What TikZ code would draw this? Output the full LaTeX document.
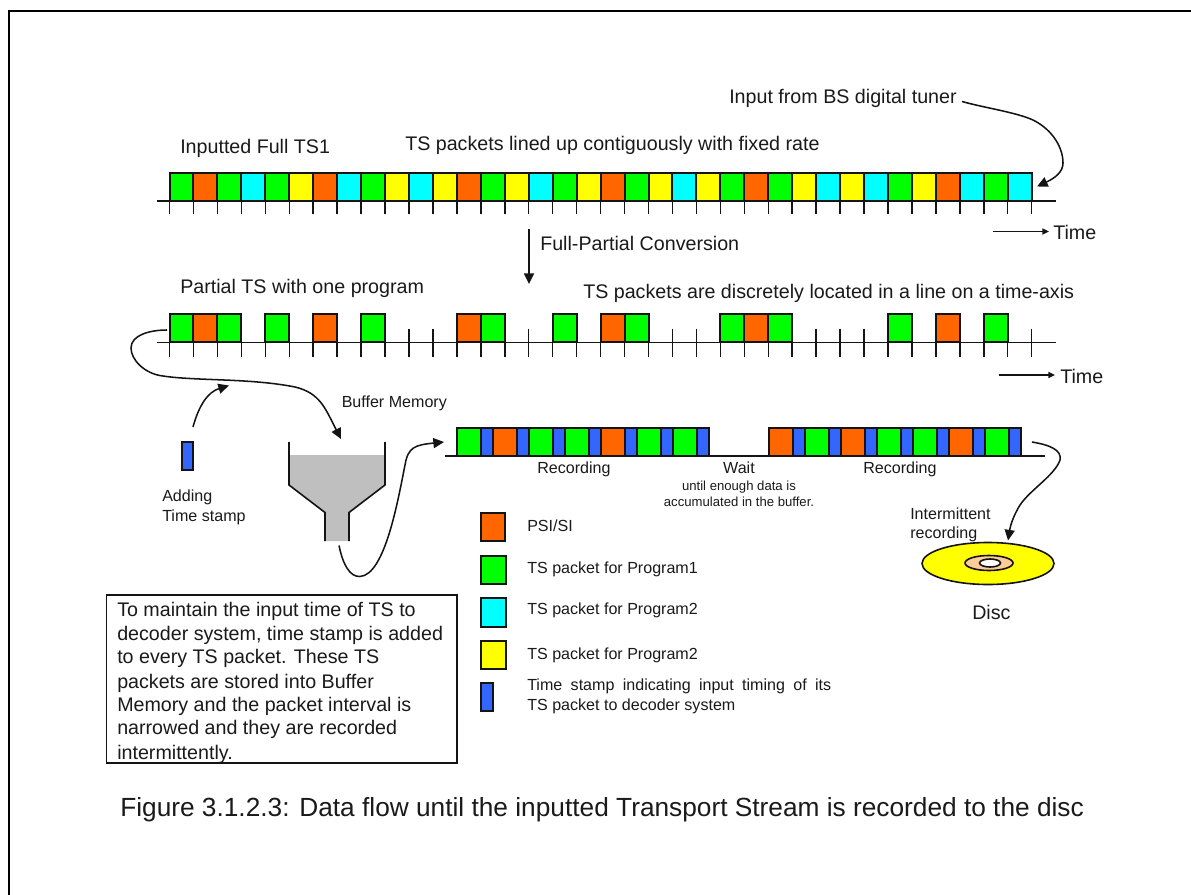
\documentclass[tikz,border=0pt]{standalone}
\usepackage{fontspec}
\setmainfont{Liberation Sans}
\usetikzlibrary{arrows.meta}
\definecolor{pg}{HTML}{00FF00}
\definecolor{po}{HTML}{FF6600}
\definecolor{pc}{HTML}{00FFFF}
\definecolor{py}{HTML}{FFFF00}
\definecolor{pb}{HTML}{3366FF}
\definecolor{pk}{HTML}{FFCC99}
\definecolor{ln}{HTML}{141414}
\definecolor{tx}{HTML}{1A1A1A}
\newcommand{\fb}{\fontsize{14.75}{17}\selectfont}
\newcommand{\fc}{\fontsize{12.05}{14}\selectfont}
\newcommand{\fd}{\fontsize{9.85}{11}\selectfont}
\newcommand{\fe}{\fontsize{19.7}{22}\selectfont}
\begin{document}
\begin{tikzpicture}[x=0.75pt,y=-0.75pt,
  pkt/.style={draw=ln,line width=1.5pt},
  axisline/.style={draw=ln,line width=1.2pt},
  tickline/.style={draw=ln,line width=1.1pt},
  curve/.style={draw=ln,line width=1.15pt,-{Triangle[length=8pt,width=7.5pt]}},
  timearrow/.style={draw=ln,line width=1pt,-{Triangle[length=5pt,width=4.5pt]}},
  lab/.style={anchor=west,inner sep=0pt,text=tx}]
\useasboundingbox (0,0) rectangle (1191,895);
\fill[white] (0,0) rectangle (1191,895);
\draw[black,line width=1.5pt] (9,895) -- (9,11) -- (1191,11);

% row 1
\foreach \i in {0,...,36}{\draw[tickline] ({169.5+23.95*\i},187) -- ({169.5+23.95*\i},214);}
\draw[axisline] (157,201) -- (1056,201);
\foreach \i/\c in {0/pg,1/po,2/pg,3/pc,4/pg,5/py,6/po,7/pc,8/pg,9/py,10/pc,11/py,12/po,13/pg,14/py,15/pc,16/pg,17/py,18/po,19/pg,20/py,21/pc,22/py,23/pg,24/po,25/pg,26/py,27/pc,28/py,29/pc,30/pg,31/py,32/po,33/pc,34/pg,35/pc}
  {\draw[pkt,fill=\c] ({169.5+23.95*\i},172.5) rectangle ({169.5+23.95*(\i+1)},200.5);}

% row 2
\foreach \i in {0,...,36}{\draw[tickline] ({169.5+23.95*\i},328.5) -- ({169.5+23.95*\i},356.5);}
\draw[axisline] (157,342.5) -- (1056,342.5);
\foreach \i/\c in {0/pg,1/po,2/pg,4/pg,6/po,8/pg,12/po,13/pg,16/pg,18/po,19/pg,23/pg,24/po,25/pg,30/pg,32/po,34/pg}
  {\draw[pkt,fill=\c] ({169.5+23.95*\i},314) rectangle ({169.5+23.95*(\i+1)},342);}

% row 3
\draw[axisline] (445,456) -- (1045,456);
\foreach \x/\c in {457/pg,493/po,529/pg,565/pg,601/po,637/pg,673/pg,768.5/po,804.5/pg,840.5/po,876.5/pg,912.5/pg,948.5/po,984.5/pg}{
  \draw[pkt,fill=\c] (\x,428) rectangle (\x+24,456);
  \draw[pkt,fill=pb] (\x+24,428) rectangle (\x+36,456);
}

% legend
\draw[pkt,fill=po] (480.5,512.5) rectangle (505,541);
\draw[pkt,fill=pg] (480.5,555.5) rectangle (505.5,584);
\draw[pkt,fill=pc] (481,598) rectangle (505.5,626.5);
\draw[pkt,fill=py] (481,640.5) rectangle (505.5,669);
\draw[pkt,fill=pb] (480.5,683) rectangle (492.5,711);
\node[lab] (lg1) at (527,525.5) {\fc PSI/SI};
\node[lab] (lg2) at (527,569) {\fc TS packet for Program1};
\node[lab] (lg3) at (527,610) {\fc TS packet for Program2};
\node[lab] (lg4) at (527,655) {\fc TS packet for Program2};
\node[lab] (lg5) at (527,686.5) {\fc\makebox[228pt][s]{Time stamp indicating input timing of its}};
\node[lab] (lg6) at (527,706.5) {\fc TS packet to decoder system};

% stamp
\draw[pkt,fill=pb] (181.5,442) rectangle (193,470);
\node[lab] (add1) at (162,497) {\fc Adding};
\node[lab] (add2) at (162,517) {\fc Time stamp};

% funnel
\fill[black!25] (289,455) -- (385,455) -- (385,485) -- (349,512.5) -- (349,541) -- (325,541) -- (325,512.5) -- (289,485) -- cycle;
\draw[ln,line width=1.2pt] (289,442) -- (289,485) -- (325,512.5) -- (325,541);
\draw[ln,line width=1.2pt] (385,442) -- (385,485) -- (349,512.5) -- (349,541);
\node[lab] (buf) at (341.5,403) {\fc Buffer Memory};

% disc
\draw[ln,line width=1.2pt,fill=py] (988,563.5) ellipse [x radius=66,y radius=21];
\draw[ln,line width=1.2pt,fill=pk] (989,563) ellipse [x radius=24,y radius=7.5];
\draw[ln,line width=1.2pt,fill=white] (990,563) ellipse [x radius=10.5,y radius=4];
\node[lab] (disc) at (972,612.5) {\fb Disc};
\node[lab] (int1) at (910,513.5) {\fc Intermittent};
\node[lab] (int2) at (910,534.5) {\fc recording};

% row labels
\node[lab] (t1) at (180,148) {\fb Inputted Full TS1};
\node[lab] (t2) at (405,145) {\fb TS packets lined up contiguously with fixed rate};
\node[lab] (t3) at (729,98) {\fb Input from BS digital tuner};
\node[lab] (t4) at (540,243) {\fb Full-Partial Conversion};
\node[lab] (t5) at (180,288.5) {\fb Partial TS with one program};
\node[lab] (t6) at (583,293.5) {\fb TS packets are discretely located in a line on a time-axis};
\node[lab] (tm1) at (1053,232.5) {\fb Time};
\node[lab] (tm2) at (1060,376) {\fb Time};
\node[text=tx,inner sep=0pt] (rec1) at (574,469) {\fc Recording};
\node[text=tx,inner sep=0pt] (wait) at (739,467.5) {\fc Wait};
\node[text=tx,inner sep=0pt] (rec2) at (900,469) {\fc Recording};
\node[text=tx,inner sep=0pt] (w1) at (739,487.5) {\fd until enough data is};
\node[text=tx,inner sep=0pt] (w2) at (739,502) {\fd accumulated in the buffer.};

% arrows
\coordinate (a1s) at (962,101.5);
\coordinate (a1e) at (1037,186.5);
\draw[curve] (a1s) .. controls (985,108) and (1015,112) .. (1033,120) .. controls (1053,130) and (1063,148) .. (1063,163) .. controls (1063,172) and (1055,178) .. (a1e);
\coordinate (fp1) at (529,229);
\coordinate (fp2) at (529,284);
\draw[curve] (fp1) -- (fp2);
\coordinate (ta1) at (993,231.5);
\coordinate (tb1) at (1049,231.5);
\draw[timearrow] (ta1) -- (tb1);
\coordinate (ta2) at (999,375);
\coordinate (tb2) at (1055,375);
\draw[timearrow] (ta2) -- (tb2);
\coordinate (a2s) at (167,330);
\coordinate (a2e) at (341,439);
\draw[curve] (a2s) .. controls (150,330) and (131,335) .. (131,348) .. controls (131,360) and (145,374) .. (163,376) .. controls (195,381) and (250,378) .. (295,387) .. controls (320,393) and (325,408) .. (a2e);
\coordinate (a3s) at (193,427);
\coordinate (a3e) at (229,385.5);
\draw[curve] (a3s) .. controls (199,405) and (208,392) .. (a3e);
\coordinate (a4s) at (339,545.5);
\coordinate (a4e) at (444,442);
\draw[curve] (a4s) .. controls (343,565) and (350,577) .. (360,576.5) .. controls (385,575) and (398,500) .. (405,465) .. controls (408,447) and (415,445) .. (a4e);
\coordinate (a5s) at (1032,442);
\coordinate (a5e) at (1008,540.5);
\draw[curve] (a5s) .. controls (1050,445) and (1062,450) .. (1060,460) .. controls (1055,475) and (1030,490) .. (1020,505) .. controls (1012,518) and (1010,528) .. (a5e);

% text box
\draw[ln,line width=1.2pt] (106.5,595) rectangle (457,763);
\node[lab] (bx1) at (117,611) {\fb To maintain the input time of TS to};
\node[lab] (bx2) at (117,635) {\fb decoder system, time stamp is added};
\node[lab] (bx3) at (117,658.5) {\fb to every TS packet. These TS};
\node[lab] (bx4) at (117,683) {\fb packets are stored into Buffer};
\node[lab] (bx5) at (117,706.5) {\fb Memory and the packet interval is};
\node[lab] (bx6) at (117,729.5) {\fb narrowed and they are recorded};
\node[lab] (bx7) at (117,754) {\fb intermittently.};
\node[lab] (cap) at (120,809.5) {\fe Figure 3.1.2.3: Data flow until the inputted Transport Stream is recorded to the disc};
\end{tikzpicture}
\end{document}
